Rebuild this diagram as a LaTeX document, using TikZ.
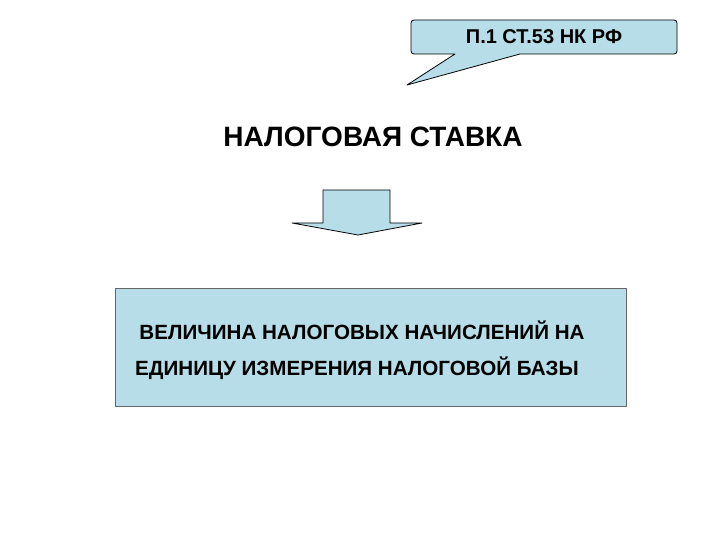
\documentclass[tikz,border=0pt]{standalone}
\usepackage{fontspec}
\setmainfont{Liberation Sans}
\definecolor{lb}{HTML}{B7DEE8}
\begin{document}
\begin{tikzpicture}[x=1pt,y=-1pt,
  shp/.style={draw=black,fill=lb,line width=0.8pt,line join=round},
  txt/.style={font=\bfseries,inner sep=0pt}]
\useasboundingbox (0,0) rectangle (720,540);
% callout
\path[shp] (455,54) -- (407,85) -- (520,54) -- (674,54) [rounded corners=3pt] -- (677,54) -- (677,20) -- (411,20) -- (411,54) [sharp corners] -- cycle;
\node[txt,font=\bfseries\fontsize{20}{24}\selectfont] (ref) at (544,37) {П.1 СТ.53 НК РФ};
% title
\node[txt,font=\bfseries\fontsize{28}{32}\selectfont] (title) at (373,137) {НАЛОГОВАЯ СТАВКА};
% arrow
\path[shp] (323,190) -- (390,190) -- (390,223) -- (422,223) -- (358,235) -- (292,223) -- (323,223) -- cycle;
\node (arr) at (358,212) {};
% box
\node[shp,minimum width=511pt,minimum height=118pt,anchor=north west,inner sep=0pt,draw=gray!80!black,line width=0.5pt] (box) at (115,288) {};
\node[txt,font=\bfseries\fontsize{20.6}{24}\selectfont] (l1) at (362,330) {ВЕЛИЧИНА НАЛОГОВЫХ НАЧИСЛЕНИЙ НА};
\node[txt,font=\bfseries\fontsize{20.6}{24}\selectfont] (l2) at (357,368) {ЕДИНИЦУ ИЗМЕРЕНИЯ НАЛОГОВОЙ БАЗЫ};
\end{tikzpicture}
\end{document}
